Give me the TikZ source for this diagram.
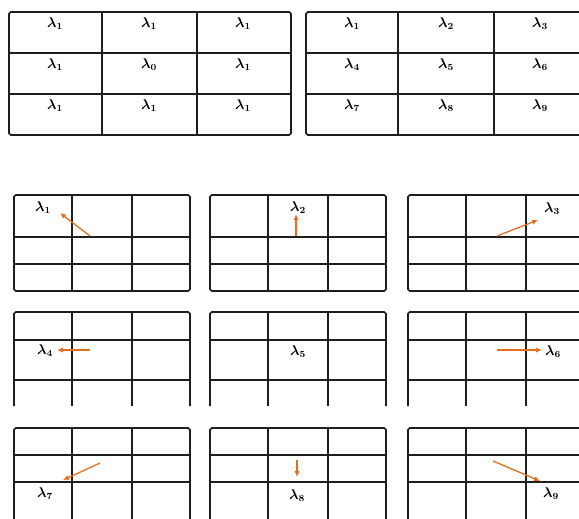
\documentclass[tikz,border=0pt]{standalone}
\usepackage{tikz}
\usetikzlibrary{arrows.meta}
\definecolor{gridDark}{RGB}{30, 30, 30}
\definecolor{moveOrange}{RGB}{226, 110, 30}

\begin{document}
\begin{tikzpicture}[
  x=0.03cm, y=-0.03cm,
  gridline/.style={line width=1.3pt,gridDark,rounded corners=1.5pt},
  weight/.style={inner sep=0pt,font=\large\boldmath},
  move/.style={-{Latex[length=5pt,width=4.5pt]},line width=1.1pt,moveOrange}
]
  \useasboundingbox (0,0) rectangle (579,518);
  \clip (0,0) rectangle (579,518);
  % kernel tables
  \draw[gridline] (9,12) rectangle (291,135);
  \draw[gridline] (102,12) -- (102,135) (197,12) -- (197,135)
                  (9,53) -- (291,53) (9,94) -- (291,94);
  \draw[gridline] (306,12) rectangle (588,135);
  \draw[gridline] (398,12) -- (398,135) (494,12) -- (494,135)
                  (306,53) -- (588,53) (306,94) -- (588,94);
  \foreach \lab [count=\i from 0] in {1,1,1,1,0,1,1,1,1} {
    \pgfmathsetmacro{\cx}{55+94*mod(\i,3)}
    \pgfmathsetmacro{\cy}{24+41*floor(\i/3)}
    \node[weight] (kerA\i) at (\cx,\cy) {$\lambda_{\lab}$};
  }
  \foreach \lab [count=\i from 0] in {1,...,9} {
    \pgfmathsetmacro{\cx}{352+94*mod(\i,3)}
    \pgfmathsetmacro{\cy}{24+41*floor(\i/3)}
    \node[weight] (kerB\lab) at (\cx,\cy) {$\lambda_{\lab}$};
  }
  % shifted grids
  \foreach \gx in {14,210,408} {
    \draw[gridline] (\gx,195) rectangle (\gx+176,291);
    \draw[gridline] (\gx,406) -- (\gx,312) -- (\gx+176,312) -- (\gx+176,406);
    \draw[gridline] (\gx,530) -- (\gx,428) -- (\gx+176,428) -- (\gx+176,530);
    \foreach \dx in {58,118} {
      \draw[gridline] (\gx+\dx,195) -- (\gx+\dx,291);
      \draw[gridline] (\gx+\dx,312) -- (\gx+\dx,406);
      \draw[gridline] (\gx+\dx,428) -- (\gx+\dx,530);
    }
    \foreach \hy in {237,264,340,380,455,482}
      \draw[gridline] (\gx,\hy) -- (\gx+176,\hy);
  }
  % labels
  \node[weight] (lamA) at (43,208) {$\lambda_1$};
  \node[weight] (lamB) at (298,208) {$\lambda_2$};
  \node[weight] (lamC) at (552,209) {$\lambda_3$};
  \node[weight] (lamD) at (45,351) {$\lambda_4$};
  \node[weight] (lamE) at (298,352) {$\lambda_5$};
  \node[weight] (lamF) at (553,352) {$\lambda_6$};
  \node[weight] (lamG) at (45,494) {$\lambda_7$};
  \node[weight] (lamH) at (297,496) {$\lambda_8$};
  \node[weight] (lamI) at (551,494) {$\lambda_9$};
  % arrow ends
  \coordinate (fromA) at (90,236);  \coordinate (toA) at (60,213);
  \coordinate (fromB) at (296,236); \coordinate (toB) at (296,214);
  \coordinate (fromC) at (497,236); \coordinate (toC) at (538,220);
  \coordinate (fromD) at (90,350);  \coordinate (toD) at (57,350);
  \coordinate (fromF) at (497,350); \coordinate (toF) at (542,350);
  \coordinate (fromG) at (100,463); \coordinate (toG) at (63,480);
  \coordinate (fromH) at (297,460); \coordinate (toH) at (297,477);
  \coordinate (fromI) at (493,461); \coordinate (toI) at (540,481);
  \draw[move] (fromA) -- (toA);
  \draw[move] (fromB) -- (toB);
  \draw[move] (fromC) -- (toC);
  \draw[move] (fromD) -- (toD);
  \draw[move] (fromF) -- (toF);
  \draw[move] (fromG) -- (toG);
  \draw[move] (fromH) -- (toH);
  \draw[move] (fromI) -- (toI);
\end{tikzpicture}
\end{document}
